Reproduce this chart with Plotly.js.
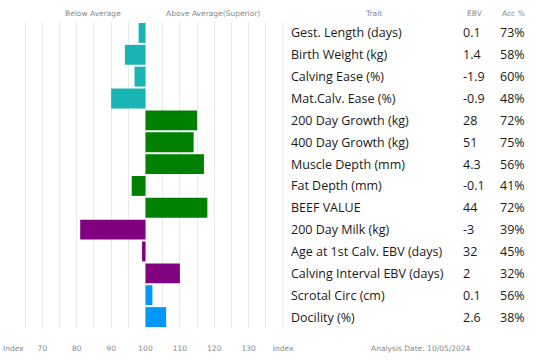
<!DOCTYPE html>
<html>
<head>
<meta charset="utf-8">
<script src="https://cdn.plot.ly/plotly-3.0.1.min.js"></script>
<style>html,body{margin:0;padding:0;background:#fff;}#chart{width:550px;height:362px;}</style>
</head>
<body>
<div id="chart"></div>
<script>
const traits = ["Gest. Length (days)","Birth Weight (kg)","Calving Ease (%)","Mat.Calv. Ease (%)","200 Day Growth (kg)","400 Day Growth (kg)","Muscle Depth (mm)","Fat Depth (mm)","BEEF VALUE","200 Day Milk (kg)","Age at 1st Calv. EBV (days)","Calving Interval EBV (days)","Scrotal Circ (cm)","Docility (%)"];
const indexValues = [98, 94, 96.8, 90, 115, 114, 117, 96, 118, 81, 99, 110, 102, 106];
const ebv = ["0.1","1.4","-1.9","-0.9","28","51","4.3","-0.1","44","-3","32","2","0.1","2.6"];
const acc = ["73%","58%","60%","48%","72%","75%","56%","41%","72%","39%","45%","32%","56%","38%"];
const groups = ["calving","calving","calving","calving","growth","growth","growth","growth","growth","maternal","maternal","maternal","other","other"];
const groupColors = {calving:"#1ab4b4", growth:"#008000", maternal:"#800080", other:"#0097fb"};
const tickValues = [70,80,90,100,110,120,130,140];
const tickLabels = ["70","80","90","100","110","120","130","Index"];
const leftAxisLabel = "Index";
const average = 100;

const L = 8, R = 283, W = 550;
const pw = R - L;
function px(p){ return (p - L) / pw; }

const trace = {
  type: "bar", orientation: "h",
  y: traits,
  x: indexValues.map(v => v - average),
  base: average,
  marker: {color: groups.map(g => groupColors[g])},
  hoverinfo: "none"
};

const ann = [];
const tFont = {family: "Open Sans, sans-serif", size: 12.5, color: "#1a1a1a"};
traits.forEach((t, i) => {
  ann.push({xref:"paper", yref:"y", x:px(289), y:t, text:t, showarrow:false, xanchor:"left", yanchor:"middle", font:tFont});
  ann.push({xref:"paper", yref:"y", x:px(461), y:t, text:ebv[i], showarrow:false, xanchor:"left", yanchor:"middle", font:tFont});
  ann.push({xref:"paper", yref:"y", x:px(498), y:t, text:acc[i], showarrow:false, xanchor:"left", yanchor:"middle", font:tFont});
});
const hFont = {family: "DejaVu Sans, sans-serif", size: 7.5, color: "#888"};
const head = [["Below Average",93],["Above Average(Superior)",213],["Trait",373],["EBV",475],["Acc %",513]];
head.forEach(h => ann.push({xref:"paper", yref:"paper", x:px(h[1]), y:1, yshift:9, text:h[0], showarrow:false, xanchor:"center", yanchor:"middle", font:hFont}));
ann.push({xref:"paper", yref:"paper", x:px(421), y:0, yshift:-20, text:"Analysis Date: 10/05/2024", showarrow:false, xanchor:"center", yanchor:"middle", font:hFont});
ann.push({xref:"paper", yref:"paper", x:px(1), y:0, yshift:-20, text:leftAxisLabel, showarrow:false, xanchor:"left", yanchor:"middle", font:hFont});

const layout = {
  width: 550, height: 362,
  margin: {l: L, r: W - R, t: 22, b: 34, pad: 0},
  paper_bgcolor: "#fff", plot_bgcolor: "#fff",
  showlegend: false,
  bargap: 0.09,
  xaxis: {
    range: [60, 140], tickvals: tickValues, ticktext: tickLabels,
    showgrid: true, gridcolor: "#e9e9e9", gridwidth: 1,
    minor: {dtick: 5, tick0: 0, showgrid: true, gridcolor: "#e9e9e9", gridwidth: 1},
    zeroline: false, showline: false, ticks: "",
    ticklabelstandoff: 14,
    ticklabeloverflow: "allow",
    tickfont: {family: "DejaVu Sans, sans-serif", size: 7.5, color: "#888"},
    fixedrange: true
  },
  yaxis: {
    type: "category", categoryarray: traits, autorange: "reversed",
    showticklabels: false, showgrid: false, zeroline: false, ticks: "", fixedrange: true
  },
  shapes: [{type:"line", xref:"paper", yref:"paper", x0:1, x1:1, y0:0, y1:1, line:{color:"#e6e6e6", width:1}}],
  annotations: ann
};
Plotly.newPlot("chart", [trace], layout, {displayModeBar: false, staticPlot: true});
</script>
</body>
</html>
